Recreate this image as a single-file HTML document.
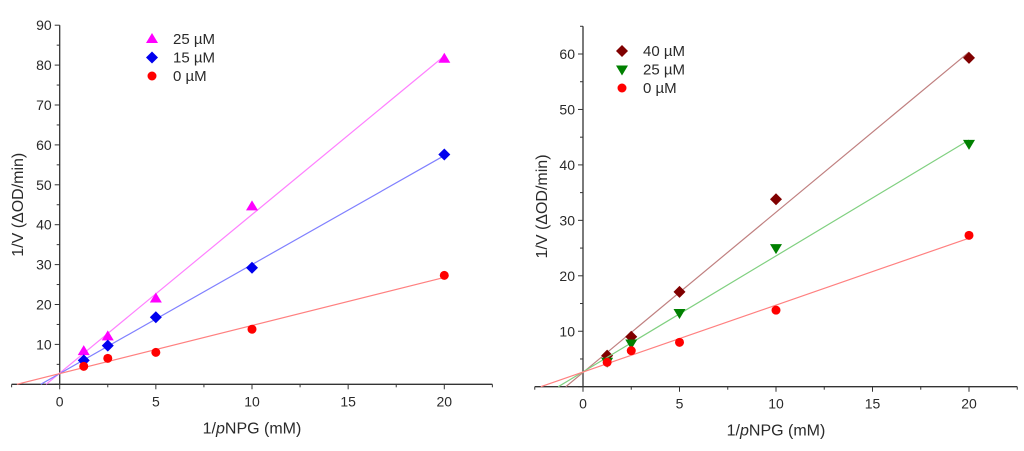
<!DOCTYPE html>
<html><head><meta charset="utf-8"><style>
body{margin:0;background:#fff}
svg text{font-family:"Liberation Sans",sans-serif;fill:#2a2a2a}
</style></head><body>
<svg id="s" width="1024" height="446"></svg>
<script>
const xs = [1.25, 2.5, 5, 10, 20];
const leftLabels = ["25 µM", "15 µM", "0 µM"];
const left25 = [8.3, 12, 21.5, 44.6, 81.6];
const left15 = [6, 9.7, 16.8, 29.2, 57.6];
const left0 = [4.5, 6.5, 8, 13.8, 27.3];
const rightLabels = ["40 µM", "25 µM", "0 µM"];
const right40 = [5.6, 9, 17.1, 33.8, 59.3];
const right25 = [4.5, 7.8, 13.3, 25, 43.8];
const right0 = [4.4, 6.5, 8, 13.8, 27.3];
const xTicks = [0, 5, 10, 15, 20];
const leftYTicks = [10, 20, 30, 40, 50, 60, 70, 80, 90];
const rightYTicks = [10, 20, 30, 40, 50, 60];

const NS = "http://www.w3.org/2000/svg";
const svg = document.getElementById('s');
function mk(tag, attrs, parent, name) {
  const e = document.createElementNS(NS, tag);
  for (const k in attrs) e.setAttribute(k, attrs[k]);
  
  
  (parent || svg).appendChild(e);
  return e;
}
function marker(g, shape, cx, cy, color, name) {
  const r = 5;
  if (shape === 'circle') return mk('circle', {cx, cy, r: 4.5, fill: color}, g, name);
  let pts;
  if (shape === 'up') pts = [[cx, cy - r - 1], [cx + r + 1, cy + r - 1], [cx - r - 1, cy + r - 1]];
  else if (shape === 'down') pts = [[cx, cy + r + 1], [cx + r + 1, cy - r + 1], [cx - r - 1, cy - r + 1]];
  else pts = [[cx, cy - r - 1], [cx + r + 1, cy], [cx, cy + r + 1], [cx - r - 1, cy]];
  return mk('polygon', {points: pts.map(p => p.join(',')).join(' '), fill: color}, g, name);
}
function fit(ys) {
  const n = xs.length, mx = xs.reduce((a, b) => a + b) / n, my = ys.reduce((a, b) => a + b) / n;
  let sxy = 0, sxx = 0;
  for (let i = 0; i < n; i++) { sxy += (xs[i] - mx) * (ys[i] - my); sxx += (xs[i] - mx) ** 2; }
  const m = sxy / sxx; return [m, my - m * mx];
}
function chart(cfg) {
  const g = mk('g', {}, svg, cfg.name);
  const X = v => cfg.x0 + v * cfg.kx, Y = v => cfg.y0 - v * cfg.ky;
  const ax = '#333';
  mk('line', {x1: X(-2.5), x2: X(22.5), y1: cfg.y0, y2: cfg.y0, stroke: ax, 'stroke-width': 1.3}, g, 'x-axis');
  mk('line', {x1: X(0), x2: X(0), y1: cfg.y0, y2: Y(cfg.ymax), stroke: ax, 'stroke-width': 1.3}, g, 'y-axis');
  for (let v = -2.5; v <= 22.51; v += 2.5) {
    const maj = Math.abs(v % 5) < 0.01;
    mk('line', {x1: X(v), x2: X(v), y1: cfg.y0, y2: cfg.y0 + (maj ? 5 : 3), stroke: ax}, g, 'x-tick');
  }
  xTicks.forEach(t => { const e = mk('text', {x: X(t), y: cfg.y0 + 22, 'text-anchor': 'middle', 'font-size': 14}, g, 'x-tick-label'); e.textContent = t; });
  for (let v = 0; v <= cfg.ymax + 0.01; v += 5) {
    const maj = v % 10 === 0;
    mk('line', {x1: X(0), x2: X(0) - (maj ? 5 : 3), y1: Y(v), y2: Y(v), stroke: ax}, g, 'y-tick');
  }
  cfg.yTicks.forEach(t => { const e = mk('text', {x: X(0) - 8, y: Y(t) + 5, 'text-anchor': 'end', 'font-size': 14}, g, 'y-tick-label'); e.textContent = t; });
  const yt = mk('text', {x: 0, y: 0, transform: `translate(${cfg.ytx},${(cfg.y0 + Y(cfg.ymax)) / 2}) rotate(-90)`, 'text-anchor': 'middle', 'font-size': 16}, g, 'y-axis-title');
  yt.textContent = '1/V (ΔOD/min)';
  const xt = mk('text', {x: X(10), y: cfg.y0 + 49, 'text-anchor': 'middle', 'font-size': 16}, g, 'x-axis-title');
  xt.innerHTML = '1/<tspan font-style="italic">p</tspan>NPG (mM)';
  cfg.series.forEach((s, i) => {
    const [m, b] = fit(s.ys);
    let xa = -2.5; if (m * xa + b < 0) xa = -b / m;
    mk('line', {x1: X(xa), y1: Y(m * xa + b), x2: X(20), y2: Y(m * 20 + b), stroke: s.line, 'stroke-width': 1.2}, g, 'fit-line-' + s.key);
    s.ys.forEach((y, j) => marker(g, s.shape, X(xs[j]), Y(y), s.color, 'point-' + s.key));
    const ly = cfg.legY + i * 18.5;
    marker(g, s.shape, cfg.legX, ly, s.color, 'legend-marker-' + s.key);
    const lt = mk('text', {x: cfg.legX + 21, y: ly + 5, 'font-size': 15}, g, 'legend-label-' + s.key);
    lt.textContent = cfg.labels[i];
  });
}
chart({name: 'left-chart', x0: 59.7, kx: 19.23, y0: 384.3, ky: 3.99, ymax: 90, yTicks: leftYTicks, ytx: 23, legX: 152, legY: 39, labels: leftLabels,
  series: [
    {key: '25uM', ys: left25, shape: 'up', color: '#ff00ff', line: '#ff80ff'},
    {key: '15uM', ys: left15, shape: 'diamond', color: '#0000ee', line: '#8080ff'},
    {key: '0uM', ys: left0, shape: 'circle', color: '#ff0000', line: '#ff8080'}]});
chart({name: 'right-chart', x0: 583, kx: 19.3, y0: 386.7, ky: 5.545, ymax: 65, yTicks: rightYTicks, ytx: 547, legX: 622, legY: 51, labels: rightLabels,
  series: [
    {key: '40uM', ys: right40, shape: 'diamond', color: '#800000', line: '#c08080'},
    {key: '25uM', ys: right25, shape: 'down', color: '#008000', line: '#80d080'},
    {key: '0uM', ys: right0, shape: 'circle', color: '#ff0000', line: '#ff8080'}]});
</script>
</body></html>
